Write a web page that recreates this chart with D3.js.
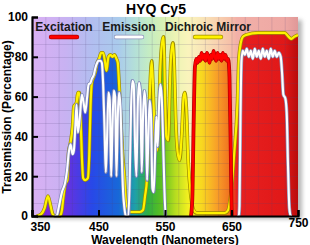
<!DOCTYPE html>
<html lang="en">
<head>
<meta charset="utf-8">
<title>HYQ Cy5</title>
<script src="https://cdn.jsdelivr.net/npm/d3@7"></script>
<style>
  body { margin: 0; background: #fff; }
  svg { display: block; font-family: "Liberation Sans", Arial, sans-serif; font-weight: bold; }
</style>
</head>
<body>
<script>

// chart values
var wavelengthTicks = [350, 450, 550, 650, 750];
var percentTicks = [0, 20, 40, 60, 80, 100];
var seriesNames = ["Excitation", "Emission", "Dichroic Mirror"];

var excitation = [[589,0],[591,8],[593,45],[595,75],[597,79],[599,77],[601,80],[603,78],[605,82],[607,79],[609,81],
    [611,78],[613,82],[615,80],[617,77],[619,81],[621,79],[623,83],[625,80],[627,78],[629,82],[631,79],[633,81],
    [635,78],[637,82],[639,79],[641,81],[643,78],[645,79],[647,70],[649,30],[650,6],[651,0]];

var emissionBlue = [[384,0],[387,0],[390,4],[395,12],[400,17],[403,24],[405,31],[408,36],[411,31],[413,33],[415,44],
    [417,56],[419,42],[422,50],[425,61],[428,56],[430,52],[433,60],[435,66],[438,67],[440,69],[443,71],[445,74],
    [448,77],[450,78],[453,78],[455,77],[457,66],[459,45],[461,22],[463,40],[465,62],[467,58],[469,20],[471,45],
    [473,63],[475,60],[477,20],[479,50],[481,62],[483,55],[485,30],[487,12],[489,4],[491,0],[495,0],[497,20],
    [499,55],[501,68],[503,66],[505,35],[507,20],[509,55],[511,67],[513,60],[515,22],[517,50],[519,63],[521,55],
    [523,18],[525,40],[527,58],[529,50],[531,14],[533,12],[535,30],[537,50],[539,35],[541,55],[543,66],[545,60],
    [547,40],[549,15],[551,0],[553,0]];

var emissionRed = [[659,0],[661,0],[662,5],[663.5,50],[665,78],[667,83],[670,81],[673,84],[676,80],[679,83],[682,79],
    [685,84],[688,80],[691,83],[694,79],[697,84],[700,80],[703,83],[706,79],[709,84],[712,80],[715,83],[718,80],
    [721,82],[724,80],[726,72],[728,61],[731,59],[733,52],[735,25],[737,4],[739,0],[741,0]];

var dichroic = [[357,0],[364,1],[369,4],[374,10],[378,5],[381,1],[385,0],[392,0],[395,3],[397,9],[400,16],[403,18],
    [405,32],[408,37],[411,45],[413,55],[415,56],[417,57],[419,62],[421,62],[423,50],[425,30],[427,19],[430,18],
    [434,19],[436,30],[438,55],[440,67],[443,70],[445,72],[448,77],[451,79],[454,82],[457,82],[460,77],[462,73],
    [465,80],[468,81],[471,80],[474,81],[477,79],[479,77],[481,66],[483,52],[486,32],[489,19],[491,8],[494,4],
    [498,2],[512,2],[517,3],[520,10],[523,19],[526,50],[528,69],[530,78],[532,65],[534,45],[536,35],[538,33],
    [540,42],[543,75],[546,88],[548,90],[550,62],[552,40],[555,38],[557,62],[559,80],[562,87],[564,75],[566,50],
    [569,32],[572,28],[575,40],[578,60],[580,62],[582,55],[585,27],[589,10],[593,3],[598,1.5],[640,1.5],[645,3],
    [649,11],[654,31],[659,57],[661,78],[664,87],[667,90],[672,91],[690,92],[715,92],[730,92],[736,90],[740,89],
    [744,90],[750,91]];

// spectrum colours for the background (pale) and under the curves (saturated)
var spectrum = [
    {nm: 350, sat: "#8a20d8", pale: "#dab0f4"},
    {nm: 400, sat: "#6a30e0", pale: "#c8b2f2"},
    {nm: 440, sat: "#2848e8", pale: "#b2bef0"},
    {nm: 480, sat: "#1868d8", pale: "#aacbec"},
    {nm: 505, sat: "#1fa0a8", pale: "#b4e0d8"},
    {nm: 525, sat: "#30b040", pale: "#c4ecc4"},
    {nm: 545, sat: "#5cc020", pale: "#d6f0b4"},
    {nm: 565, sat: "#b4dc20", pale: "#ecf4b4"},
    {nm: 585, sat: "#f4f020", pale: "#faf4bc"},
    {nm: 605, sat: "#f8d820", pale: "#f9e6b8"},
    {nm: 628, sat: "#f8a028", pale: "#f8d2b0"},
    {nm: 648, sat: "#f07020", pale: "#f6c0a8"},
    {nm: 658, sat: "#e82020", pale: "#f2b0a8"},
    {nm: 730, sat: "#e01818", pale: "#eea8a4"},
    {nm: 750, sat: "#b80c0c", pale: "#e09898"}
];

var w = 310, h = 245;
var margin = {top: 17, right: 12, bottom: 29, left: 32};

var x = d3.scaleLinear().domain([350, 750]).range([margin.left, w - margin.right]);
var y = d3.scaleLinear().domain([0, 100]).range([h - margin.bottom, margin.top]);

var svg = d3.select("body").append("svg")
    .attr("width", w)
    .attr("height", h);

var defs = svg.append("defs");

function addGradient(id, key) {
    var g = defs.append("linearGradient")
        .attr("id", id)
        .attr("gradientUnits", "userSpaceOnUse")
        .attr("x1", x(350)).attr("x2", x(750))
        .attr("y1", 0).attr("y2", 0);
    g.selectAll("stop")
        .data(spectrum)
        .enter().append("stop")
        .attr("offset", function(d) { return (d.nm - 350) / 400; })
        .attr("stop-color", function(d) { return d[key]; });
}
addGradient("paleGrad", "pale");
addGradient("satGrad", "sat");

defs.append("filter").attr("id", "blur")
    .attr("x", "-10%").attr("y", "-10%").attr("width", "130%").attr("height", "130%")
    .append("feGaussianBlur").attr("stdDeviation", 2.2);

// drop shadow and pale background
svg.append("rect")
    .attr("x", x(350) + 4).attr("y", y(100) + 3)
    .attr("width", x(750) - x(350)).attr("height", y(0) - y(100))
    .attr("fill", "#888")
    .attr("opacity", 0.6)
    .attr("filter", "url(#blur)");

svg.append("rect")
    .attr("x", x(350)).attr("y", y(100))
    .attr("width", x(750) - x(350)).attr("height", y(0) - y(100))
    .attr("fill", "url(#paleGrad)");

// saturated fill under every curve
var area = d3.area()
    .x(function(d) { return x(d[0]); })
    .y0(y(0))
    .y1(function(d) { return y(d[1]); })
    .curve(d3.curveMonotoneX);

var allSeries = [dichroic, excitation, emissionBlue, emissionRed];
svg.selectAll("path.fill")
    .data(allSeries)
    .enter().append("path")
    .attr("class", "fill")
    .attr("d", area)
    .attr("fill", "url(#satGrad)");

// grid
var grid = svg.append("g").attr("stroke", "rgba(80,70,120,0.16)").attr("stroke-width", 1);
grid.selectAll("line.v")
    .data(d3.range(370, 750, 20))
    .enter().append("line")
    .attr("x1", function(d) { return x(d) + 0.5; })
    .attr("x2", function(d) { return x(d) + 0.5; })
    .attr("y1", y(100)).attr("y2", y(0));
grid.selectAll("line.h")
    .data(d3.range(1, 15).map(function(i) { return i * 100 / 15; }))
    .enter().append("line")
    .attr("x1", x(350)).attr("x2", x(750))
    .attr("y1", function(d) { return Math.round(y(d)) + 0.5; })
    .attr("y2", function(d) { return Math.round(y(d)) + 0.5; });

// curves
var line = d3.line()
    .x(function(d) { return x(d[0]); })
    .y(function(d) { return y(d[1]); })
    .curve(d3.curveMonotoneX);

function drawCurve(data, color, edge, width) {
    svg.append("path")
        .attr("d", line(data))
        .attr("fill", "none")
        .attr("stroke", edge)
        .attr("stroke-width", width + 1.4)
        .attr("stroke-linejoin", "round");
    svg.append("path")
        .attr("d", line(data))
        .attr("fill", "none")
        .attr("stroke", color)
        .attr("stroke-width", width)
        .attr("stroke-linejoin", "round");
}

drawCurve(dichroic, "#fff200", "#9c8a00", 2.2);
drawCurve(excitation, "#ff0000", "#b00000", 2.4);
drawCurve(emissionBlue, "#ffffff", "#7d86b8", 2.1);
drawCurve(emissionRed, "#ffffff", "#8a90b8", 2.1);

// axes
var xAxis = d3.axisBottom(x).tickValues(wavelengthTicks).tickSize(-6).tickPadding(6);
var yAxis = d3.axisLeft(y).tickValues(percentTicks).tickSize(-6).tickPadding(4);

var gx = svg.append("g")
    .attr("transform", "translate(0," + y(0) + ")")
    .call(xAxis);
var gy = svg.append("g")
    .attr("transform", "translate(" + x(350) + ",0)")
    .call(yAxis);

[gx, gy].forEach(function(g) {
    g.select(".domain").attr("stroke", "#000").attr("stroke-width", 2.2);
    g.selectAll(".tick line").attr("stroke", "#000").attr("stroke-width", 2);
    g.selectAll(".tick text")
        .attr("fill", "#000")
        .attr("font-size", "12px")
        .attr("font-weight", "bold")
        .attr("font-family", "'Liberation Sans', Arial, sans-serif");
});
gx.selectAll(".tick text").filter(function(d) { return d === 350; }).attr("dx", 8);
gx.selectAll(".tick text").filter(function(d) { return d === 750; }).attr("y", 2);

// titles
svg.append("text")
    .text("HYQ Cy5")
    .attr("x", 156).attr("y", 14)
    .attr("text-anchor", "middle")
    .attr("font-size", "14px");

svg.append("text")
    .text("Wavelength (Nanometers)")
    .attr("x", 165).attr("y", 243.5)
    .attr("text-anchor", "middle")
    .attr("font-size", "12px");

svg.append("text")
    .text("Transmission (Percentage)")
    .attr("transform", "translate(11,117) rotate(-90)")
    .attr("text-anchor", "middle")
    .attr("font-size", "12px");

// legend
var legendColors = ["#ff0000", "#ffffff", "#fff200"];
var legendEdges = ["#b00000", "#8a90b8", "#9c8a00"];
var legendX = [64, 129, 208];

var legend = svg.selectAll("g.legend")
    .data(seriesNames)
    .enter().append("g")
    .attr("class", "legend")
    .attr("transform", function(d, i) { return "translate(" + legendX[i] + ",0)"; });

legend.append("text")
    .text(function(d) { return d; })
    .attr("y", 31)
    .attr("text-anchor", "middle")
    .attr("font-size", "12px")
    .attr("fill", "#1a1a1a");

legend.append("line")
    .attr("x1", -13).attr("x2", 13)
    .attr("y1", 37).attr("y2", 37)
    .attr("stroke", function(d, i) { return legendEdges[i]; })
    .attr("stroke-width", 4.4)
    .attr("stroke-linecap", "round");
legend.append("line")
    .attr("x1", -13).attr("x2", 13)
    .attr("y1", 37).attr("y2", 37)
    .attr("stroke", function(d, i) { return legendColors[i]; })
    .attr("stroke-width", 3)
    .attr("stroke-linecap", "round");

</script>
</body>
</html>
